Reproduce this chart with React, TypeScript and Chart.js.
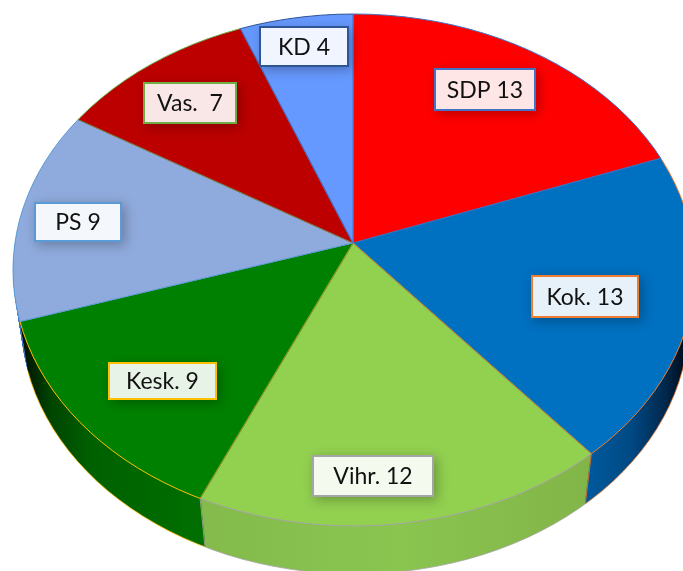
import React, { useEffect, useRef } from "react";
import { Chart, registerables } from "chart.js";

Chart.register(...registerables);

const categories = ["SDP", "Kok.", "Vihr.", "Kesk.", "PS", "Vas. ", "KD"];
const seats = [13, 13, 12, 9, 9, 7, 4];
const faceColors = ["#ff0000", "#0070c0", "#92d050", "#008000", "#8faadc", "#bc0000", "#6699ff"];
const accentColors = ["#4472c4", "#ed7d31", "#a5a5a5", "#ffc000", "#5b9bd5", "#70ad47", "#2f5597"];
// colour of the radial seam at the end of each slice
const seamColors = ["#4472c4", "#c9713a", "#b9962a", "#5b9bd5", "#6f8f50", "#3f66b0", "#4472c4"];
// side wall colour stops: [x pixel, colour]
const sideStops: [number, string][][] = [
  [[0, "#a00000"], [683, "#a00000"]],
  [[585, "#005a9e"], [630, "#004a85"], [665, "#00284d"], [683, "#000f20"]],
  [[205, "#84bb4c"], [400, "#8ac550"], [590, "#82b548"]],
  [[22, "#001000"], [50, "#004400"], [90, "#006000"], [205, "#007000"]],
  [[0, "#3f74bd"], [683, "#3f74bd"]],
  [[0, "#800000"], [683, "#800000"]],
  [[0, "#4070d0"], [683, "#4070d0"]],
];
// label boxes: left, top, right, bottom
const labelBoxes = [
  [435, 69, 535, 110],
  [532, 276, 638, 317],
  [313, 456, 433, 496],
  [109, 363, 216, 399],
  [35, 203, 121, 241],
  [144, 83, 236, 123],
  [260, 27, 348, 66],
];

const APEX = { x: 353, y: 243 };
const TOP = { cx: 354, cy: 270, rx: 341, ry: 256 };
const DEPTH = 50;
const K = 1.45;
const FLAT = 0.75;
const FLAT_LOW = 0.77;

const ellipseAt = (t: number) => ({
  cx: TOP.cx + (t / DEPTH) * 1,
  cy: TOP.cy + t,
  rx: TOP.rx - (t / DEPTH) * 7,
  ry: TOP.ry - (t / DEPTH) * 2,
});
const flatAt = (t: number) => FLAT + (FLAT_LOW - FLAT) * (t / DEPTH);

function rayHit(angle: number, t: number) {
  const e = ellipseAt(t);
  const ax = (APEX.x - e.cx) / e.rx;
  const ay = (APEX.y + t - e.cy) / e.ry;
  const dx = Math.cos(angle) / e.rx;
  const dy = (flatAt(t) * Math.sin(angle)) / e.ry;
  const A = dx * dx + dy * dy;
  const B = 2 * (ax * dx + ay * dy);
  const C = ax * ax + ay * ay - 1;
  const s = (-B + Math.sqrt(B * B - 4 * A * C)) / (2 * A);
  return { x: APEX.x + s * Math.cos(angle), y: APEX.y + t + s * flatAt(t) * Math.sin(angle) };
}

function wedge(ctx: CanvasRenderingContext2D, arc: any, t: number) {
  const R = 500;
  const f = flatAt(t);
  ctx.beginPath();
  ctx.moveTo(APEX.x, APEX.y + t);
  const steps = 24;
  for (let s = 0; s <= steps; s++) {
    const a = arc.startAngle + ((arc.endAngle - arc.startAngle) * s) / steps;
    ctx.lineTo(APEX.x + R * Math.cos(a), APEX.y + t + R * f * Math.sin(a));
  }
  ctx.closePath();
}

const projector = {
  id: "projector",
  beforeDatasetsDraw(chart: any) {
    const ctx = chart.ctx as CanvasRenderingContext2D;
    const arcs = chart.getDatasetMeta(0).data as any[];
    const ox = arcs[0].x;
    const oy = arcs[0].y;
    const grads = sideStops.map((stops) => {
      const toUser = (px: number) => (px - APEX.x) / K + ox;
      const g = ctx.createLinearGradient(toUser(stops[0][0]), 0, toUser(stops[stops.length - 1][0]), 0);
      const span = stops[stops.length - 1][0] - stops[0][0];
      stops.forEach(([p, c]) => g.addColorStop((p - stops[0][0]) / span, c));
      return g;
    });
    for (let t = DEPTH; t >= 1; t--) {
      const e = ellipseAt(t);
      ctx.save();
      ctx.beginPath();
      ctx.ellipse(e.cx, e.cy, e.rx, e.ry, 0, 0, Math.PI * 2);
      ctx.clip();
      ctx.translate(APEX.x, APEX.y + t);
      ctx.scale(K, K * flatAt(t));
      ctx.translate(-ox, -oy);
      arcs.forEach((arc, i) => {
        const saved = arc.options;
        arc.options = { ...saved, backgroundColor: grads[i], borderWidth: 0 };
        arc.draw(ctx);
        arc.options = saved;
      });
      ctx.restore();
    }
    // thin coloured lower rim of the side walls
    arcs.forEach((arc, i) => {
      if (i !== 1 && i !== 2 && i !== 3) return;
      ctx.save();
      wedge(ctx, arc, DEPTH);
      ctx.clip();
      const e = ellipseAt(DEPTH);
      ctx.beginPath();
      ctx.ellipse(e.cx, e.cy, e.rx, e.ry, 0, 0, Math.PI * 2);
      ctx.strokeStyle = accentColors[i];
      ctx.lineWidth = 0.8;
      ctx.stroke();
      ctx.restore();
    });
    ctx.save();
    ctx.beginPath();
    ctx.ellipse(TOP.cx, TOP.cy, TOP.rx, TOP.ry, 0, 0, Math.PI * 2);
    ctx.clip();
    ctx.translate(APEX.x, APEX.y);
    ctx.scale(K, K * FLAT);
    ctx.translate(-ox, -oy);
  },
  afterDatasetsDraw(chart: any) {
    const ctx = chart.ctx as CanvasRenderingContext2D;
    ctx.restore();
    const arcs = chart.getDatasetMeta(0).data as any[];
    // rim of the top face
    arcs.forEach((arc, i) => {
      ctx.save();
      wedge(ctx, arc, 0);
      ctx.clip();
      ctx.beginPath();
      ctx.ellipse(TOP.cx, TOP.cy, TOP.rx, TOP.ry, 0, 0, Math.PI * 2);
      ctx.strokeStyle = accentColors[i];
      ctx.lineWidth = 1;
      ctx.stroke();
      ctx.restore();
    });
    // seams between slices, and the upright edges on the side wall
    arcs.forEach((arc, i) => {
      const top = rayHit(arc.endAngle, 0);
      ctx.save();
      ctx.strokeStyle = seamColors[i];
      ctx.lineWidth = 1;
      ctx.beginPath();
      ctx.moveTo(APEX.x, APEX.y);
      ctx.lineTo(top.x, top.y);
      ctx.stroke();
      if (i === 1 || i === 2) {
        const low = rayHit(arc.endAngle, DEPTH);
        ctx.strokeStyle = i === 1 ? "#c9713a" : "#8f9a80";
        ctx.beginPath();
        ctx.moveTo(top.x, top.y);
        ctx.lineTo(low.x, low.y);
        ctx.stroke();
      }
      ctx.restore();
    });
  },
  afterDraw(chart: any) {
    const ctx = chart.ctx as CanvasRenderingContext2D;
    categories.forEach((name, i) => {
      const [l, t, r, b] = labelBoxes[i];
      ctx.save();
      ctx.shadowColor = "rgba(0,0,0,0.28)";
      ctx.shadowBlur = 11;
      ctx.shadowOffsetX = 3;
      ctx.shadowOffsetY = 3;
      ctx.fillStyle = accentColors[i];
      ctx.fillRect(l - 1, t - 1, r - l + 2, b - t + 2);
      ctx.restore();
      ctx.save();
      ctx.beginPath();
      ctx.rect(l + 1, t + 1, r - l - 2, b - t - 2);
      ctx.clip();
      ctx.fillStyle = faceColors[i];
      ctx.fillRect(l, t, r - l, b - t);
      ctx.fillStyle = "rgba(255,255,255,0.9)";
      ctx.fillRect(l, t, r - l, b - t);
      ctx.restore();
      ctx.fillStyle = "#111111";
      ctx.font = '23px Lato, "Open Sans", sans-serif';
      ctx.textAlign = "center";
      ctx.textBaseline = "middle";
      ctx.fillText(`${name} ${seats[i]}`, (l + r) / 2, (t + b) / 2 + 1);
    });
  },
};

export default function App() {
  const ref = useRef<HTMLCanvasElement>(null);
  useEffect(() => {
    const chart = new Chart(ref.current!, {
      type: "pie",
      data: {
        labels: categories,
        datasets: [
          {
            data: seats,
            backgroundColor: faceColors,
            borderColor: faceColors,
            borderWidth: 0.7,
          },
        ],
      },
      options: {
        animation: false,
        responsive: false,
        devicePixelRatio: 1,
        layout: { padding: 0 },
        plugins: { legend: { display: false }, tooltip: { enabled: false } },
      },
      plugins: [projector],
    } as any);
    return () => chart.destroy();
  }, []);
  return (
    <canvas
      ref={ref}
      width={683}
      height={571}
      style={{ position: "absolute", left: 0, top: 0, width: 683, height: 571, display: "block", background: "#fff" }}
    />
  );
}
